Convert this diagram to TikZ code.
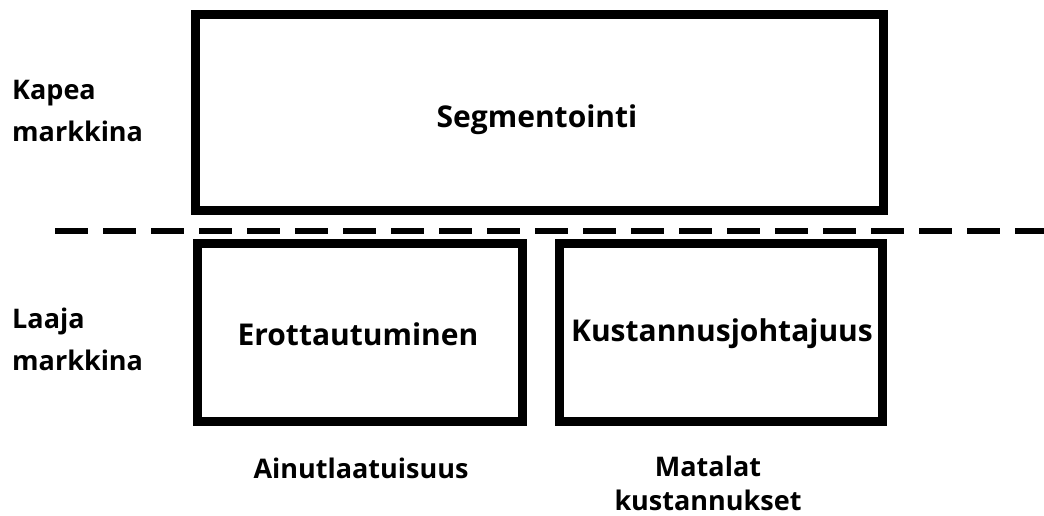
\documentclass[tikz,border=0pt]{standalone}
\usepackage{fontspec}
\setmainfont{Open Sans}
\begin{document}
\begin{tikzpicture}[x=1pt,y=-1pt,
  box/.style={draw=black,line width=9pt,fill=white,inner sep=0pt},
  boxtext/.style={inner sep=0pt,font=\fontsize{30}{36}\selectfont\bfseries},
  lbl/.style={inner sep=0pt,align=left,anchor=north west,
    font=\fontsize{27}{42}\selectfont\bfseries},
  undertext/.style={inner sep=0pt,align=center,
    font=\fontsize{27}{34}\selectfont\bfseries},
  dashline/.style={line width=6pt,dash pattern=on 33pt off 15pt}]
\useasboundingbox (0,0) rectangle (1044,515);
\fill[white] (0,0) rectangle (1044,515);
\node[box,minimum width=688pt,minimum height=196pt] (seg) at (539.5,112.5) {};
\node[box,minimum width=325pt,minimum height=178pt] (ero) at (360,332.5) {};
\node[box,minimum width=323pt,minimum height=178pt] (kus) at (721,332.5) {};
\node[boxtext] (segt) at (537,120) {Segmentointi};
\node[boxtext] (erot) at (358,334) {Erottautuminen};
\node[boxtext] (kust) at (722,334) {Kustannusjohtajuus};
\coordinate (dl) at (55,231);
\coordinate (dr) at (1044,231);
\draw[dashline] (dl) -- (dr);
\node[lbl] (kapea) at (12,80) {Kapea\\markkina};
\node[lbl] (laaja) at (12,308) {Laaja\\markkina};
\node[undertext] (ain) at (361,468) {Ainutlaatuisuus};
\node[undertext] (mat) at (708,483) {Matalat\\kustannukset};
\end{tikzpicture}
\end{document}
